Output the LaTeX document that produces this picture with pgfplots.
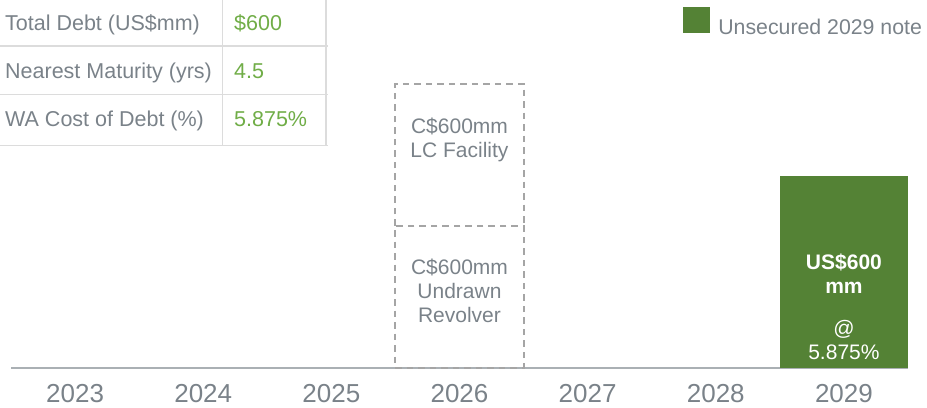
\documentclass[border=0pt]{standalone}
\usepackage{fontspec}
\setmainfont{Liberation Sans}
\usepackage{pgfplots}
\pgfplotsset{compat=1.18}
\definecolor{barg}{RGB}{84,130,53}
\definecolor{valg}{RGB}{112,173,71}
\definecolor{txtg}{RGB}{122,130,137}
\definecolor{axg}{RGB}{170,176,180}
\definecolor{gridg}{RGB}{220,220,220}
\definecolor{dashg}{RGB}{165,165,165}
\begin{document}
\begin{tikzpicture}
\useasboundingbox (0bp,0bp) rectangle (927bp,408bp);
% table
\draw[gridg, line width=1.5bp] (0bp,362bp) -- (328bp,362bp);
\draw[gridg, line width=1.5bp] (0bp,313.5bp) -- (328bp,313.5bp);
\draw[gridg, line width=1.5bp] (0bp,262.5bp) -- (328bp,262.5bp);
\draw[gridg, line width=1.5bp] (222.5bp,408bp) -- (222.5bp,262.5bp);
\draw[gridg, line width=1.5bp] (326bp,408bp) -- (326bp,262.5bp);
\begin{scope}[every node/.style={inner sep=0pt, anchor=base west, font=\fontsize{21.5bp}{24bp}\selectfont}]
\node[text=txtg] at (5bp,377.6bp) {Total Debt (US\$mm)};
\node[text=txtg] at (5bp,329.3bp) {Nearest Maturity (yrs)};
\node[text=txtg] at (5bp,281.5bp) {WA Cost of Debt (\%)};
\node[text=valg] at (234bp,377.6bp) {\$600};
\node[text=valg] at (234bp,329.3bp) {4.5};
\node[text=valg] at (234bp,281.5bp) {5.875\%};
\end{scope}
\begin{axis}[
  at={(11bp,40bp)}, anchor=south west,
  scale only axis, width=897bp, height=368bp,
  xmin=-0.5, xmax=6.5, ymin=0, ymax=1150,
  axis x line*=bottom, axis y line=none,
  x axis line style={draw=axg, line width=2bp},
  xtick={0,...,6}, xticklabels={2023,2024,2025,2026,2027,2028,2029},
  major tick length=0pt,
  xticklabel style={font=\fontsize{26bp}{26bp}\selectfont, text=txtg, inner sep=0pt, yshift=-16.5bp},
  /pgf/number format/assume math mode=true,
  clip=false,
  legend style={at={(axis description cs:1.0156,0.981)}, anchor=north east, draw=none, fill=none, inner sep=0pt, outer sep=0pt,
    font=\fontsize{21.3bp}{24bp}\selectfont, text=txtg, nodes={inner sep=0pt}, column sep=8bp},
  legend image code/.code={\fill[barg] (0bp,-5.4bp) rectangle (27bp,20.6bp);},
]
\addplot[ybar, bar width=1, bar shift=0pt, fill=barg, draw=none] coordinates {(6,600)};
\addlegendentry{Unsecured 2029 note}
\addplot[ybar, bar width=1, bar shift=0pt, draw=dashg, line width=2bp, dash pattern=on 6.5bp off 5bp, fill=none, forget plot] coordinates {(3,444)};
\addplot[draw=dashg, line width=2bp, dash pattern=on 6.5bp off 5bp, forget plot] coordinates {(2.5,444) (2.5,888) (3.5,888) (3.5,444)};
\node[text=white, font=\bfseries\fontsize{21bp}{23.5bp}\selectfont, align=center] at (axis cs:6,295) {US\$600\\mm};
\node[text=white, font=\fontsize{21bp}{24bp}\selectfont, align=center] at (axis cs:6,87.5) {@\\5.875\%};
\node[text=txtg, font=\fontsize{21bp}{24bp}\selectfont, align=center] at (axis cs:3,712) {C\$600mm\\LC Facility};
\node[text=txtg, font=\fontsize{21bp}{24bp}\selectfont, align=center] at (axis cs:3,240) {C\$600mm\\Undrawn\\Revolver};
\end{axis}
\end{tikzpicture}
\end{document}
